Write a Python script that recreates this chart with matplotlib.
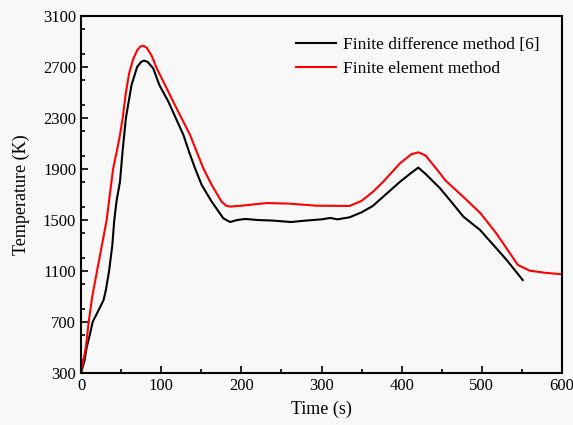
import numpy as np
import matplotlib.pyplot as plt
from matplotlib.ticker import MultipleLocator

plt.rcParams['font.family'] = ['Liberation Serif', 'DejaVu Serif']

# finite difference method [6]
t_fd = [0, 4.5, 7, 11, 14.5, 22.5, 28, 31, 35, 39, 41.5, 44.5, 48.6, 52, 56, 63, 70,
        75, 78.6, 83, 90, 97.7, 109, 127.7, 134.7, 142.2, 150.5, 163, 177.5, 186, 195, 205, 220,
        240, 262, 280, 300, 311, 320, 335, 350, 364, 377, 398, 412, 420.7, 430, 447.8,
        460, 477, 497.7, 515, 531, 551]
T_fd = [300, 400, 500, 600, 700, 800, 870, 950, 1100, 1300, 1500, 1657, 1800, 2050, 2300, 2559, 2700,
        2740, 2750, 2740, 2690, 2559, 2428, 2167, 2036, 1906, 1775, 1644, 1513, 1484, 1500, 1508, 1500,
        1495, 1484, 1495, 1505, 1516, 1505, 1521, 1560, 1610, 1683, 1800, 1870, 1911, 1860, 1749,
        1657, 1526, 1422, 1300, 1186, 1029]

# finite element method
t_fe = [0, 6, 9.6, 14, 20, 26, 32, 36, 40, 45, 48.6, 52, 56, 60, 65, 70, 74, 77.7, 82, 88,
        94.4, 104.8, 115, 136, 144.3, 152.5, 163, 175.4, 181, 186, 200, 232, 260, 294, 335,
        350, 364, 377, 398, 412, 420.7, 430, 447.8, 454, 481, 498, 518, 545, 560, 580, 600]
T_fe = [300, 500, 700, 900, 1100, 1300, 1500, 1700, 1900, 2050, 2167, 2300, 2500, 2650, 2760, 2830, 2860, 2867, 2850, 2790,
        2690, 2559, 2428, 2167, 2036, 1906, 1775, 1644, 1612, 1605, 1612, 1633, 1628, 1612, 1610,
        1650, 1720, 1800, 1945, 2015, 2031, 2005, 1866, 1814, 1657, 1555, 1396, 1147, 1102, 1085, 1074]

fig = plt.figure(figsize=(5.73, 4.25), dpi=100, facecolor='#f8f8f8')
ax = fig.add_axes([0.1414, 0.1224, 0.8394, 0.84])
ax.set_facecolor('#f8f8f8')

ax.plot(t_fd, T_fd, color='black', lw=1.5, label='Finite difference method [6]')
ax.plot(t_fe, T_fe, color='red', lw=1.5, label='Finite element method')

ax.set_xlim(0, 600)
ax.set_ylim(300, 3100)
ax.set_yticks(np.arange(300, 3101, 400))
ax.xaxis.set_major_locator(MultipleLocator(100))
ax.xaxis.set_minor_locator(MultipleLocator(50))
ax.yaxis.set_minor_locator(MultipleLocator(200))
ax.tick_params(which='both', direction='in', labelsize=12)
ax.tick_params(which='major', length=5, width=1.2)
ax.tick_params(which='minor', length=3, width=1.2)
for s in ax.spines.values():
    s.set_linewidth(1.5)

ax.set_xlabel('Time (s)', fontsize=13, labelpad=5)
ax.set_ylabel('Temperature (K)', fontsize=13, labelpad=9)

ax.legend(loc='upper right', frameon=False, fontsize=12.5, handlelength=2.3,
          handletextpad=0.4, labelspacing=0.45, borderaxespad=0.5,
          bbox_to_anchor=(0.985, 0.985))

fig.savefig('out.png', dpi=100, facecolor=fig.get_facecolor())
